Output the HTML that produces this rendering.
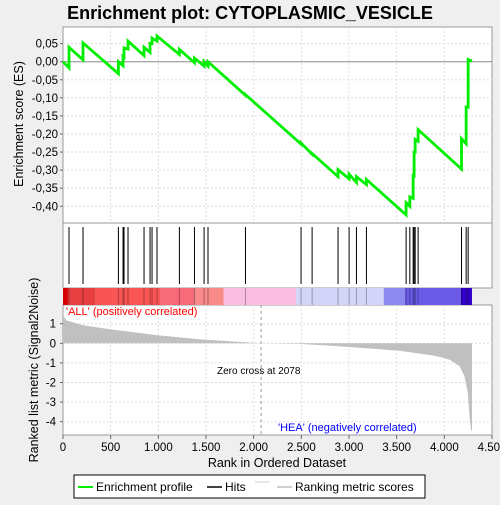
<!DOCTYPE html>
<html><head><meta charset="utf-8"><style>
body{margin:0;background:#efefef;font-family:"Liberation Sans",sans-serif}
svg text{font-family:"Liberation Sans",sans-serif}
</style></head><body>
<svg id="c" width="500" height="500" xmlns="http://www.w3.org/2000/svg">
<rect width="500" height="500" fill="#efefef"/>
<text x="250" y="19" text-anchor="middle" font-size="18" font-weight="bold">Enrichment plot: CYTOPLASMIC_VESICLE</text>
<g id="g"></g>
</svg>
<script>
const esTicks=[0.05,0,-0.05,-0.1,-0.15,-0.2,-0.25,-0.3,-0.35,-0.4];
const esTickLabels=["0,05","0,00","-0,05","-0,10","-0,15","-0,20","-0,25","-0,30","-0,35","-0,40"];
const xTicks=[0,500,1000,1500,2000,2500,3000,3500,4000,4500];
const xTickLabels=["0","500","1.000","1.500","2.000","2.500","3.000","3.500","4.000","4.500"];
const mTicks=[1,0,-1,-2,-3,-4];
const hitRanks=[63,210,581,630,640,682,850,913,934,986,1221,1379,1480,1521,1914,2497,2613,2885,3001,3078,3183,3599,3638,3673,3683,3694,3725,4180,4229,4250];
const esBefore=[-0.017,0.005,-0.033,-0.011,0.013,0.035,0.017,0.026,0.05,0.057,0.02,-0.003,-0.012,-0.012,-0.093,-0.228,-0.256,-0.318,-0.324,-0.334,-0.34,-0.424,-0.4,-0.378,-0.316,-0.25,-0.22,-0.297,-0.227,-0.126];
const esAfter=[0.04,0.052,0.0,0.015,0.038,0.057,0.04,0.051,0.065,0.071,0.034,0.01,0.0,0.0,-0.091,-0.225,-0.254,-0.299,-0.311,-0.318,-0.326,-0.39,-0.374,-0.315,-0.25,-0.215,-0.188,-0.213,-0.125,0.006];
const esEnd=0.002;
const totalGenes=4290;
const metricRanks=[0,10,35,210,490,980,1440,2078,2450,2830,3180,3530,3880,4000,4060,4160,4210,4245,4265,4280,4290];
const metricVals=[1.55,1.35,1.17,0.92,0.72,0.42,0.2,0,-0.02,-0.13,-0.25,-0.38,-0.62,-0.75,-0.85,-1.17,-1.67,-2.5,-3.8,-4.4,-4.5];
const barStarts=[0,52,343,1025,1378,1686,2445,3365,3585,4173];
const barColors=["#d80000","#e84040","#fa5555","#f76a7a","#f88a8a","#fbbde0","#d4d4f8","#8a8af0","#6b5be8","#3300cc"];

const NS="http://www.w3.org/2000/svg",g=document.getElementById('g');
const L=63,R=492;
const X=r=>L+r*(R-L)/4500;
const YE=v=>61.7-v*361.4;
const YM=v=>343.3-v*19.6;
function el(t,a,p){const e=document.createElementNS(NS,t);for(const k in a)e.setAttribute(k,a[k]);(p||g).appendChild(e);return e;}
el('rect',{x:L,y:27,width:R-L,height:196,fill:'#fff',stroke:'#999'});
el('rect',{x:L,y:223,width:R-L,height:65,fill:'#fff',stroke:'#999'});
el('rect',{x:L,y:305,width:R-L,height:130,fill:'#fff',stroke:'#999'});
xTicks.forEach((t,i)=>{if(i>0&&i<xTicks.length-1){
 el('line',{x1:X(t),x2:X(t),y1:27,y2:223,stroke:'#ddd','stroke-dasharray':'2,2'});
 el('line',{x1:X(t),x2:X(t),y1:305,y2:435,stroke:'#ddd','stroke-dasharray':'2,2'});}});
esTicks.forEach((t,i)=>{const y=YE(t);
 el('line',{x1:L,x2:R,y1:y,y2:y,stroke:t===0?'#888':'#ddd','stroke-dasharray':t===0?'':'2,2'});
 el('line',{x1:L-3,x2:L,y1:y,y2:y,stroke:'#666'});
 const tx=el('text',{x:L-5,y:y+4,'text-anchor':'end','font-size':'11.5'});tx.textContent=esTickLabels[i];
 });
mTicks.forEach(t=>{const y=YM(t);
 el('line',{x1:L,x2:R,y1:y,y2:y,stroke:'#ddd','stroke-dasharray':'2,2'});
 el('line',{x1:L-3,x2:L,y1:y,y2:y,stroke:'#666'});
 const tx=el('text',{x:L-7,y:y+4,'text-anchor':'end','font-size':'11.5'});tx.textContent=String(t);
 });
xTicks.forEach((t,i)=>{el('line',{x1:X(t),x2:X(t),y1:435,y2:439,stroke:'#666'});
 const tx=el('text',{x:X(t),y:451,'text-anchor':'middle','font-size':'11.5'});tx.textContent=xTickLabels[i];
 });
barStarts.forEach((s,i)=>{const e=i+1<barStarts.length?barStarts[i+1]:totalGenes;
 const r=el('rect',{x:X(s),y:288,width:X(e)-X(s),height:17,fill:barColors[i]});
 });
hitRanks.forEach(h=>{const l=el('line',{x1:X(h),x2:X(h),y1:227,y2:284,stroke:'#000','stroke-width':1});
 
 el('line',{x1:X(h),x2:X(h),y1:288,y2:305,stroke:'#000','stroke-opacity':0.3});});
let d='M'+X(0)+','+YM(0);
metricRanks.forEach((r,i)=>{d+=' L'+X(r)+','+YM(metricVals[i]);});
d+=' L'+X(totalGenes)+','+YM(0)+' Z';
const ma=el('path',{d:d,fill:'#c0c0c0',stroke:'none'});

el('line',{x1:X(2078),x2:X(2078),y1:305,y2:435,stroke:'#999','stroke-dasharray':'3,3'});
let p='M'+X(0)+','+YE(0);
hitRanks.forEach((h,i)=>{p+=' L'+X(h)+','+YE(esBefore[i])+' L'+X(h)+','+YE(esAfter[i]);});
p+=' L'+X(totalGenes)+','+YE(esEnd);
const es=el('path',{d:p,fill:'none',stroke:'#00ee00','stroke-width':2.8});

function txt(s,a,name){const t=el('text',a);t.textContent=s;return t;}
txt("'ALL' (positively correlated)",{x:66,y:315,'font-size':'11',fill:'#f00'},'positive-label');
txt("'HEA' (negatively correlated)",{x:278,y:431,'font-size':'11',fill:'#00f'},'negative-label');
txt("Zero cross at 2078",{x:217,y:374,'font-size':'10'},'zero-cross-label');
txt("Rank in Ordered Dataset",{x:277,y:467,'text-anchor':'middle','font-size':'12.5'},'x-axis-title');
txt("Enrichment score (ES)",{x:0,y:0,'text-anchor':'middle','font-size':'12.5',transform:'translate(23,124) rotate(-90)'},'es-axis-title');
txt("Ranked list metric (Signal2Noise)",{x:0,y:0,'text-anchor':'middle','font-size':'12.5',transform:'translate(38,370) rotate(-90)'},'metric-axis-title');
const lg=el('g',{});
el('rect',{x:74,y:475,width:351,height:23,fill:'#fff',stroke:'#000'},lg);
el('line',{x1:78,x2:93,y1:487,y2:487,stroke:'#00ee00','stroke-width':2},lg);
txt("Enrichment profile",{x:96,y:491,'font-size':'12'},'legend-enrichment-profile');
el('line',{x1:207,x2:222,y1:487,y2:487,stroke:'#000','stroke-width':1.5},lg);
txt("Hits",{x:225,y:491,'font-size':'12'},'legend-hits');
el('line',{x1:255,x2:270,y1:482,y2:482,stroke:'#ccc'},lg);
el('line',{x1:277,x2:292,y1:487,y2:487,stroke:'#c0c0c0','stroke-width':1.5},lg);
txt("Ranking metric scores",{x:295,y:491,'font-size':'12'},'legend-ranking-metric');
</script>
</body></html>
